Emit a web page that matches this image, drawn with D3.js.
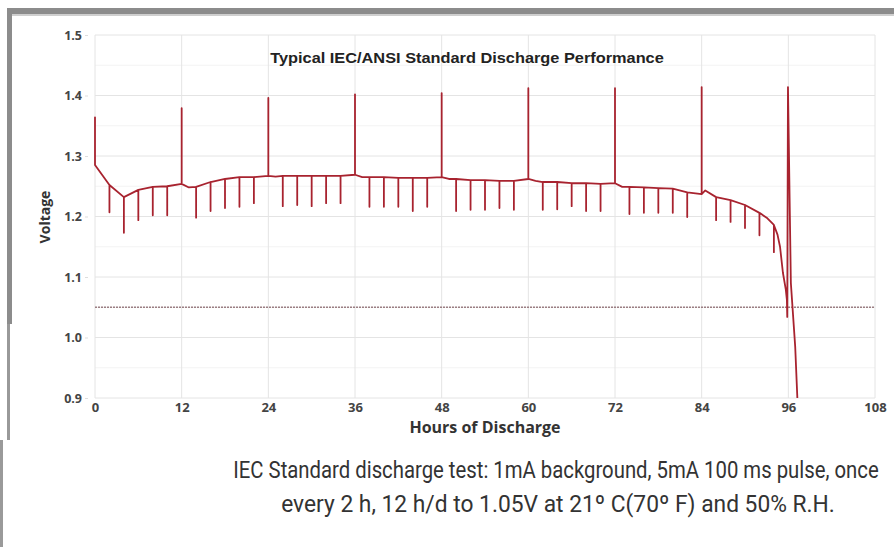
<!DOCTYPE html>
<html>
<head>
<meta charset="utf-8">
<script src="https://cdn.jsdelivr.net/npm/d3@7"></script>
<style>
  html, body { margin: 0; padding: 0; background: #fff; }
  svg { display: block; }
</style>
</head>
<body>
<svg id="chart" width="894" height="547"></svg>
<script>
// ---------- data ----------
const xTicks = [0, 12, 24, 36, 48, 60, 72, 84, 96, 108];
const yTicks = [0.9, 1.0, 1.1, 1.2, 1.3, 1.4, 1.5];
const yTickLabels = ["0.9", "1.0", "1.1", "1.2", "1.3", "1.4", "1.5"];
const cutoffVoltage = 1.05;

// baseline (background-load) voltage between pulses
const baseHours = [0,2,4,6,8,10,12,13,14,16,18,20,22,24,25,26,28,30,32,34,36,37,38,40,42,44,46,48,49,50,52,54,56,58,60,61,62,64,66,68,70,72,73,74,76,78,80,82,84,84.5,86,88,90,92,93,94,94.5,94.85,95.25,95.65,95.8];
const baseVolts = [1.285,1.252,1.232,1.244,1.249,1.250,1.254,1.248,1.249,1.257,1.262,1.265,1.265,1.267,1.266,1.267,1.267,1.267,1.267,1.267,1.269,1.265,1.265,1.265,1.264,1.264,1.264,1.265,1.262,1.262,1.260,1.260,1.259,1.259,1.262,1.259,1.257,1.257,1.255,1.255,1.254,1.255,1.249,1.249,1.248,1.247,1.246,1.240,1.237,1.243,1.232,1.227,1.219,1.206,1.198,1.186,1.170,1.150,1.107,1.079,1.062];

// 5mA pulse drops every 2 h
const pulseHours = [2,4,6,8,10,14,16,18,20,22,26,28,30,32,34,38,40,42,44,46,50,52,54,56,58,62,64,66,68,70,74,76,78,80,82,86,88,90,92,94];
const pulseLows  = [1.207,1.173,1.194,1.202,1.202,1.198,1.209,1.214,1.216,1.222,1.217,1.219,1.217,1.222,1.222,1.216,1.216,1.216,1.209,1.216,1.209,1.211,1.211,1.214,1.211,1.211,1.212,1.217,1.209,1.209,1.204,1.206,1.206,1.206,1.199,1.194,1.191,1.181,1.169,1.141];

// recovery spikes after each 12 h rest
const spikeHours = [0,12,24,36,48,60,72,84];
const spikeTops  = [1.364,1.379,1.396,1.402,1.404,1.412,1.412,1.414];

// end of discharge
const tailHours = [95.85,95.95,96.35,96.95,97.25];
const tailVolts = [1.034,1.414,1.090,0.985,0.900];

// ---------- layout ----------
const svg = d3.select("#chart");
const W = 894, H = 547;
const x = d3.scaleLinear().domain([0, 108]).range([95, 875]);
const y = d3.scaleLinear().domain([0.9, 1.5]).range([398, 35]);

// screenshot frame
svg.append("rect").attr("x", 0).attr("y", 0).attr("width", W).attr("height", H).attr("fill", "#fff");
svg.append("rect").attr("x", 8).attr("y", 8).attr("width", W - 8).attr("height", 6).attr("fill", "#8c8c8c");
svg.append("rect").attr("x", 8).attr("y", 14).attr("width", W - 8).attr("height", 2).attr("fill", "#cfcfcf");
svg.append("rect").attr("x", 7).attr("y", 8).attr("width", 5).attr("height", 316).attr("fill", "#8c8c8c");
svg.append("rect").attr("x", 7).attr("y", 324).attr("width", 3).attr("height", 116).attr("fill", "#999");
svg.append("rect").attr("x", 0).attr("y", 440).attr("width", 3).attr("height", 107).attr("fill", "#9a9a9a");

// grid
const g = svg.append("g");
const minor = d3.range(0.95, 1.5, 0.1);
g.selectAll("line.minor").data(minor).enter().append("line")
  .attr("x1", x(0)).attr("x2", x(108))
  .attr("y1", d => y(d)).attr("y2", d => y(d))
  .attr("stroke", "#f3f3f3").attr("stroke-width", 1);
g.selectAll("line.hgrid").data(yTicks).enter().append("line")
  .attr("x1", x(0)).attr("x2", x(108))
  .attr("y1", d => y(d)).attr("y2", d => y(d))
  .attr("stroke", "#e4e4e4").attr("stroke-width", 1);
g.selectAll("line.vgrid").data(xTicks).enter().append("line")
  .attr("x1", d => x(d)).attr("x2", d => x(d))
  .attr("y1", y(1.5)).attr("y2", y(0.9))
  .attr("stroke", "#e4e4e4").attr("stroke-width", 1);

// axes labels via d3 axes
const yAxis = d3.axisLeft(y).tickValues(yTicks).tickFormat((d, i) => yTickLabels[i]).tickSize(3).tickPadding(3);
const ya = svg.append("g").attr("transform", `translate(${x(0) - 7},0)`).call(yAxis);
ya.select(".domain").remove();
ya.selectAll(".tick line").attr("stroke", "#ddd");
ya.selectAll("text").attr("font-family", "Open Sans").attr("font-weight", 700)
  .attr("font-size", 12.5).attr("fill", "#444");

const xAxis = d3.axisBottom(x).tickValues(xTicks).tickFormat(d3.format("d")).tickSize(0).tickPadding(5);
const xa = svg.append("g").attr("transform", `translate(0,${y(0.9)})`).call(xAxis);
xa.select(".domain").remove();
xa.selectAll("text").attr("font-family", "Open Sans").attr("font-weight", 700)
  .attr("font-size", 13).attr("fill", "#444");

// cutoff line
svg.append("line")
  .attr("x1", x(0)).attr("x2", x(108))
  .attr("y1", y(cutoffVoltage)).attr("y2", y(cutoffVoltage))
  .attr("stroke", "#9b7f83").attr("stroke-width", 1.3).attr("stroke-dasharray", "2,1");

// build the trace from arrays
const pts = [];
baseHours.forEach((h, i) => {
  const v = baseVolts[i];
  pts.push([h, v]);
  const si = spikeHours.indexOf(h);
  if (si >= 0) { pts.push([h, spikeTops[si]]); pts.push([h, v]); }
  const pi = pulseHours.indexOf(h);
  if (pi >= 0) { pts.push([h, pulseLows[pi]]); pts.push([h, v]); }
});
tailHours.forEach((h, i) => pts.push([h, tailVolts[i]]));

const line = d3.line().x(d => x(d[0])).y(d => y(d[1]));
svg.append("path").datum(pts)
  .attr("d", line)
  .attr("fill", "none")
  .attr("stroke", "#a8232f")
  .attr("stroke-width", 1.8)
  .attr("stroke-linejoin", "round")
  .attr("stroke-linecap", "butt");

// helper: text squeezed horizontally to a target width
function fitText(str, cx, by, width, font, size, weight, fill) {
  const t = svg.append("text").attr("x", 0).attr("y", 0).attr("text-anchor", "middle")
    .attr("font-family", font).attr("font-size", size).attr("font-weight", weight)
    .attr("fill", fill).text(str);
  const L = t.node().getComputedTextLength() || width;
  t.attr("transform", `translate(${cx},${by}) scale(${width / L},1)`);
  return t;
}

// titles
fitText("Typical IEC/ANSI Standard Discharge Performance", 467, 63, 394, "Liberation Sans, Arial", 15, 700, "#222");

svg.append("text").attr("transform", `translate(50,217) rotate(-90)`).attr("text-anchor", "middle")
  .attr("font-family", "Open Sans").attr("font-weight", 700)
  .attr("font-size", 14).attr("fill", "#333").text("Voltage");

svg.append("text").attr("x", 485).attr("y", 433).attr("text-anchor", "middle")
  .attr("font-family", "Open Sans").attr("font-weight", 700)
  .attr("font-size", 16).attr("fill", "#333").text("Hours of Discharge");

// caption
fitText("IEC Standard discharge test: 1mA background, 5mA 100 ms pulse, once", 556, 478, 646, "Roboto", 24, 400, "#333");
fitText("every 2 h, 12 h/d to 1.05V at 21º C(70º F) and 50% R.H.", 558, 512, 554, "Roboto", 24, 400, "#333");
</script>
</body>
</html>
